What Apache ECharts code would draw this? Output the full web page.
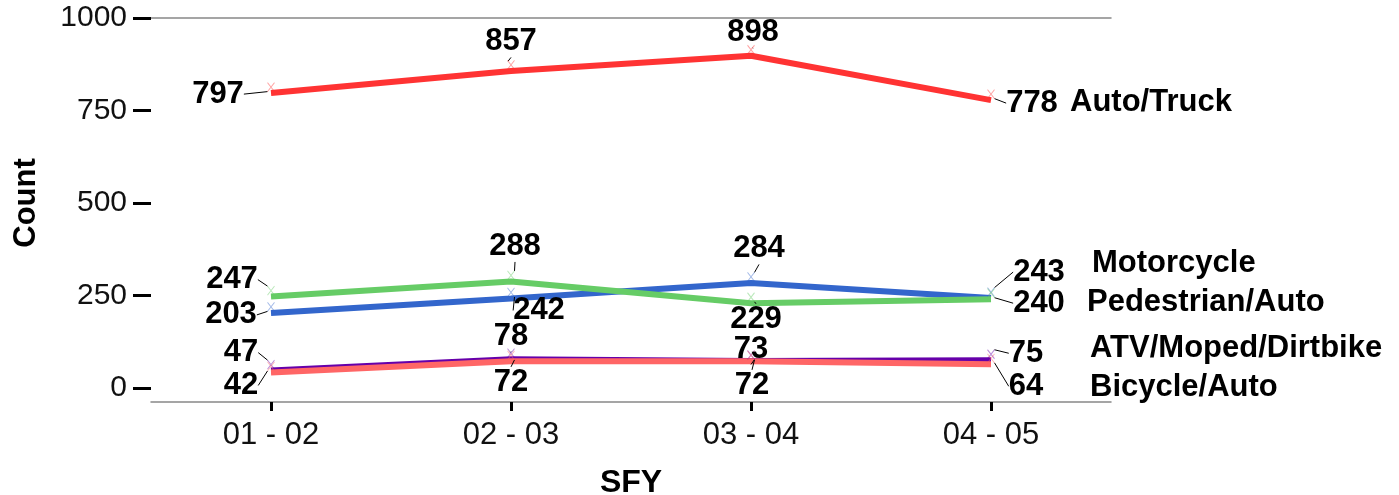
<!DOCTYPE html>
<html>
<head>
<meta charset="utf-8">
<script src="https://cdn.jsdelivr.net/npm/echarts@6/dist/echarts.min.js"></script>
<style>
  html, body { margin: 0; padding: 0; background: #fff; }
  #chart { width: 1399px; height: 495px; }
</style>
</head>
<body>
<div id="chart"></div>
<script>
// data
var years = ['01 - 02', '02 - 03', '03 - 04', '04 - 05'];
var yTicks = [0, 250, 500, 750, 1000];
var autoTruck = [797, 857, 898, 778];
var motorcycle = [203, 242, 284, 243];
var pedestrian = [247, 288, 229, 240];
var atv = [47, 78, 73, 75];
var bicycle = [42, 72, 72, 64];

// label offsets (px) from each point, like the repelled labels in the original
var offAuto = [[-53, 1], [0, -29], [2, -23], [41, 3]];
var offMoto = [[-40, 2], [28, 12], [8, -34], [48, -26]];
var offPed = [[-39, -17], [4, -35], [5, 16], [48, 4]];
var offAtv = [[-30, -18], [0, -23], [0, -12], [35, -7]];
var offBike = [[-30, 13], [0, 21], [1, 24], [35, 22]];

var chart = echarts.init(document.getElementById('chart'));

function fade(hex) {
    var c = echarts.color.parse(hex);
    return 'rgba(' + c[0] + ',' + c[1] + ',' + c[2] + ',0.45)';
}

function makeSeries(name, data, color, offs, endOff) {
    return {
        name: name,
        type: 'line',
        data: data,
        lineStyle: { width: 6, color: color },
        itemStyle: { color: 'rgba(0,0,0,0)', borderColor: fade(color), borderWidth: 1 },
        symbol: 'path://M0,0L10,10M10,0L0,10',
        symbolSize: [7, 9],
        symbolOffset: [0, -6],
        showSymbol: true,
        label: {
            show: true,
            position: 'inside',
            color: '#000',
            fontSize: 31,
            fontWeight: 'bold',
            fontFamily: 'Liberation Sans, Arial, sans-serif'
        },
        labelLine: { show: true, lineStyle: { color: '#000', width: 1 } },
        labelLayout: function (p) {
            var o = offs[p.dataIndex];
            if (!o) return {};
            return { dx: o[0], dy: o[1] + 6 };
        },
        endLabel: {
            show: true,
            formatter: name,
            offset: endOff,
            color: '#000',
            fontSize: 31,
            fontWeight: 'bold',
            fontFamily: 'Liberation Sans, Arial, sans-serif'
        },
        emphasis: { disabled: true },
        animation: false
    };
}

var option = {
    backgroundColor: '#fff',
    animation: false,
    textStyle: { fontFamily: 'Liberation Sans, Arial, sans-serif' },
    grid: { left: 151, width: 960, top: 18, bottom: 107, outerBoundsMode: 'none', containLabel: false },
    xAxis: [{
        type: 'category',
        data: years,
        boundaryGap: true,
        offset: 14,
        name: 'SFY',
        nameLocation: 'middle',
        nameGap: 65,
        nameTextStyle: { color: '#000', fontSize: 32, fontWeight: 'bold' },
        axisLine: { show: true, onZero: false, lineStyle: { color: '#888', width: 1.5 } },
        axisTick: { show: true, inside: false, alignWithLabel: true, interval: 0, length: 9, lineStyle: { color: '#000', width: 3 } },
        axisLabel: { color: '#111', fontSize: 31, margin: 18, interval: 0 }
    }, {
        type: 'category',
        data: years,
        position: 'top',
        axisLine: { show: true, onZero: false, lineStyle: { color: '#888', width: 1.5 } },
        axisTick: { show: false },
        axisLabel: { show: false }
    }],
    yAxis: {
        type: 'value',
        min: yTicks[0],
        max: yTicks[yTicks.length - 1],
        interval: 250,
        name: 'Count',
        nameLocation: 'middle',
        nameGap: 109,
        nameTextStyle: { color: '#000', fontSize: 31, fontWeight: 'bold' },
        axisLine: { show: false },
        axisTick: { show: true, length: 18, lineStyle: { color: '#000', width: 3 } },
        splitLine: { show: false },
        axisLabel: { color: '#111', fontSize: 30, margin: 24, formatter: function (v) { return String(v); } }
    },
    series: [
        makeSeries('Auto/Truck', autoTruck, '#ff3333', offAuto, [71, 2]),
        makeSeries('Motorcycle', motorcycle, '#3366cc', offMoto, [93, -35]),
        makeSeries('Pedestrian/Auto', pedestrian, '#66cc66', offPed, [88, 3]),
        makeSeries('ATV/Moped/Dirtbike', atv, '#6600aa', offAtv, [91, -12]),
        makeSeries('Bicycle/Auto', bicycle, '#ff6666', offBike, [91, 23])
    ]
};

chart.setOption(option);
</script>
</body>
</html>
